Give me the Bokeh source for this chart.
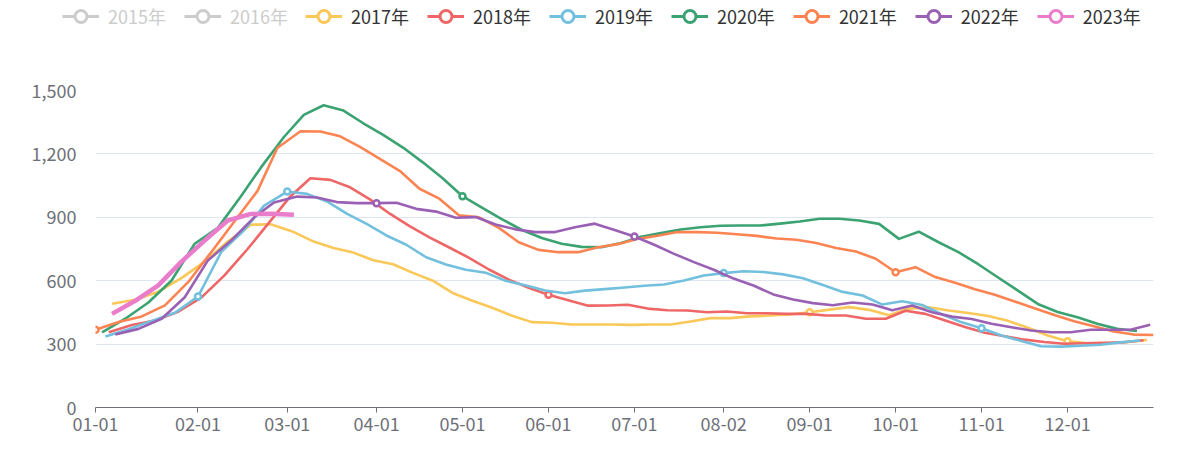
import pandas as pd
from bokeh.plotting import figure
from bokeh.layouts import column
from bokeh.models import (ColumnDataSource, Range1d, FixedTicker,
                          NumeralTickFormatter, Legend, LegendItem)
from bokeh.embed import file_html
from bokeh.resources import INLINE

# ---------------- data ----------------
series_names = ["2015年", "2016年", "2017年", "2018年", "2019年",
                "2020年", "2021年", "2022年", "2023年"]
series_years = [2015, 2016, 2017, 2018, 2019, 2020, 2021, 2022, 2023]
hidden_names = ["2015年", "2016年"]
missing_dates = ["2015-02-20"]   # week without data in a hidden year

y2017 = [491, 510, 548, 612, 690, 785, 865, 867, 830,
         785, 755, 733, 697, 678, 637, 600, 542, 505,
         472, 434, 404, 401, 393, 393, 393, 391, 393, 393,
         407, 423, 423, 431, 435, 440, 451, 463, 475, 462,
         437, 468, 474, 459, 447, 433, 410, 377, 341, 314,
         304, 304, 309, 320]
y2018 = [356, 390, 412, 453, 520, 625, 750, 865, 1000,
         1085, 1077, 1042, 985, 917, 858, 805, 757, 708,
         653, 605, 567, 533, 508, 482, 483, 486, 468, 460,
         459, 451, 454, 446, 446, 443, 443, 435, 435, 420,
         420, 458, 443, 412, 381, 354, 337, 321, 310, 302,
         304, 306, 309, 318]
y2019 = [336, 370, 410, 448, 525, 735, 840, 955, 1022,
         1011, 975, 917, 869, 814, 770, 711, 677, 652,
         638, 600, 578, 554, 541, 553, 560, 568, 576, 582,
         601, 625, 636, 645, 641, 630, 612, 580, 547, 530,
         487, 503, 485, 441, 403, 375, 341, 315, 290, 288,
         292, 297, 308, 317]
y2020 = [355, 420, 497, 601, 775, 850, 1000, 1135, 1280,
         1385, 1430, 1405, 1345, 1290, 1230, 1160, 1085, 1000,
         945, 890, 840, 802, 775, 760, 758, 778, 808, 825,
         842, 853, 860, 861, 861, 870, 880, 893, 893, 885,
         869, 798, 832, 782, 735, 678, 615, 553, 490, 452,
         427, 396, 372, 362]
y2021 = [368, 405, 431, 483, 593, 735, 880, 1025, 1228,
         1307, 1306, 1283, 1233, 1177, 1120, 1035, 988, 909,
         900, 850, 782, 746, 735, 735, 758, 773, 798, 813,
         830, 830, 827, 820, 812, 800, 794, 778, 755, 738,
         704, 640, 664, 617, 590, 560, 533, 502, 470, 438,
         408, 384, 360, 345, 343]
y2022 = [345, 372, 420, 522, 696, 790, 900, 970, 998,
         994, 972, 967, 967, 969, 940, 927, 898, 901,
         866, 843, 830, 830, 853, 870, 840, 809, 770, 727,
         688, 652, 610, 577, 535, 511, 494, 484, 497, 487,
         460, 483, 451, 430, 419, 396, 380, 364, 356, 356,
         368, 368, 368, 392]
y2023 = [443, 505, 578, 690, 790, 885, 916, 917, 912]

values = {"2017年": y2017, "2018年": y2018, "2019年": y2019, "2020年": y2020,
          "2021年": y2021, "2022年": y2022, "2023年": y2023}

colors = {"2015年": "#5470c6", "2016年": "#91cc75", "2017年": "#fac858",
          "2018年": "#ee6666", "2019年": "#73c0de", "2020年": "#3ba272",
          "2021年": "#fc8452", "2022年": "#9a60b4", "2023年": "#ea7ccc"}

tick_labels = ["01-01", "02-01", "03-01", "04-01", "05-01", "06-01",
               "07-01", "08-02", "09-01", "10-01", "11-01", "12-01"]
y_ticks = [0, 300, 600, 900, 1200, 1500]

# weekly (Friday) dates of every year -> category axis (MM-DD union)
dates = {}
for name, yr in zip(series_names, series_years):
    d = pd.date_range(f"{yr}-01-01", f"{yr}-12-31", freq="W-FRI")
    d = d[~d.isin(pd.to_datetime(missing_dates))]
    if name in values:
        d = d[:len(values[name])]
    dates[name] = [x.strftime("%m-%d") for x in d]

categories = sorted(set(c for v in dates.values() for c in v))
pos = {c: i for i, c in enumerate(categories)}

FONT = "Noto Sans CJK SC"
TOTAL_W = 1193
NAN = float("nan")

# ---------------- main chart ----------------
p = figure(frame_width=1058, frame_height=317,
           min_border_left=95, min_border_right=TOTAL_W - 95 - 1058,
           min_border_top=55, min_border_bottom=35,
           x_range=Range1d(0, len(categories) - 1), y_range=Range1d(0, 1500),
           output_backend="svg", toolbar_location=None, tools="")
p.outline_line_color = None
p.background_fill_color = "white"
p.border_fill_color = "white"

p.xgrid.grid_line_color = None
p.ygrid.grid_line_color = "#E0E6F1"
p.ygrid.grid_line_width = 1

p.yaxis.ticker = FixedTicker(ticks=y_ticks)
p.yaxis.formatter = NumeralTickFormatter(format="0,0")
p.yaxis.axis_line_color = None
p.yaxis.major_tick_line_color = None
p.yaxis.minor_tick_line_color = None
p.yaxis.major_label_standoff = 13
p.yaxis.major_label_text_font = FONT
p.yaxis.major_label_text_font_size = "18px"
p.yaxis.major_label_text_color = "#6E7079"

tick_pos = [pos[t] for t in tick_labels]
p.xaxis.ticker = FixedTicker(ticks=tick_pos)
p.xaxis.major_label_overrides = {tp: t for tp, t in zip(tick_pos, tick_labels)}
p.xaxis.axis_line_color = "#6E7079"
p.xaxis.axis_line_width = 1
p.xaxis.major_tick_line_color = "#6E7079"
p.xaxis.major_tick_out = 5
p.xaxis.major_tick_in = 0
p.xaxis.minor_tick_line_color = None
p.xaxis.major_label_standoff = 4
p.xaxis.major_label_text_font = FONT
p.xaxis.major_label_text_font_size = "18px"
p.xaxis.major_label_text_color = "#6E7079"

# ---------------- legend strip ----------------
lf = figure(frame_width=TOTAL_W, frame_height=35,
            min_border_left=0, min_border_right=0,
            min_border_top=0, min_border_bottom=0,
            x_range=Range1d(0, 1), y_range=Range1d(0, 1),
            x_axis_type=None, y_axis_type=None,
            output_backend="svg", toolbar_location=None, tools="")
lf.outline_line_color = None
lf.xgrid.grid_line_color = None
lf.ygrid.grid_line_color = None
lf.background_fill_color = "white"
lf.border_fill_color = "white"


def legend_glyphs(col):
    ln = lf.line(x=[NAN], y=[NAN], line_color=col, line_width=3)
    mk = lf.scatter(x=[NAN], y=[NAN], marker="circle", size=12, line_width=3,
                    line_color=col, fill_color="white")
    return [ln, mk]


items_hidden, items_shown = [], []
for name in series_names:
    col = colors[name]
    if name in hidden_names:
        items_hidden.append(LegendItem(label=name,
                                       renderers=legend_glyphs("#cccccc")))
        continue
    xs = [pos[c] for c in dates[name]]
    ys = values[name]
    src = ColumnDataSource(dict(x=xs, y=ys))
    lw = 4.5 if name == "2023年" else 2.6
    p.line("x", "y", source=src, line_color=col, line_width=lw,
           line_join="round")
    mx = [x for x, c in zip(xs, dates[name]) if c in tick_labels]
    my = [y for y, c in zip(ys, dates[name]) if c in tick_labels]
    p.scatter(x=mx, y=my, marker="circle", size=6, line_width=2.5,
              line_color=col, fill_color="white")
    items_shown.append(LegendItem(label=name, renderers=legend_glyphs(col)))


def make_legend(items, loc, text_color):
    return Legend(items=items, location=loc, orientation="horizontal",
                  glyph_width=37, glyph_height=30, label_height=20,
                  label_standoff=9, spacing=18, padding=0, margin=0,
                  border_line_color=None, background_fill_alpha=0,
                  label_text_font=FONT, label_text_font_size="18px",
                  label_text_color=text_color)


lf.add_layout(make_legend(items_hidden, (62, 4), "#cccccc"))
lf.add_layout(make_legend(items_shown, (305, 4), "#333333"))

layout = column(lf, p, spacing=0)
open("out.html", "w").write(file_html(layout, INLINE))
